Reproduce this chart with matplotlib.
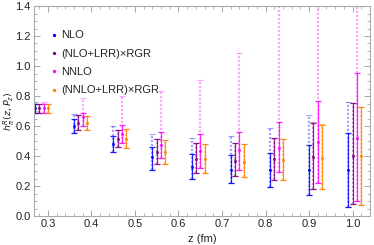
import matplotlib
matplotlib.use("Agg")
import matplotlib.pyplot as plt
from matplotlib.ticker import MultipleLocator, FormatStrFormatter
from matplotlib.lines import Line2D

plt.rcParams['font.family'] = ['Liberation Sans', 'DejaVu Sans']
plt.rcParams['mathtext.fontset'] = 'dejavusans'

z = [0.27, 0.36, 0.45, 0.54, 0.63, 0.72, 0.81, 0.90, 0.99]
offsets = [0.0, 0.01, 0.02, 0.03]
labels = ['NLO', '(NLO+LRR)\u00d7RGR', 'NNLO', '(NNLO+LRR)\u00d7RGR']
colors = ['#0000ff', '#800080', '#ff00ff', '#ff8000']

# NLO
nlo_c  = [0.72, 0.600, 0.480, 0.395, 0.330, 0.310, 0.307, 0.307, 0.305]
nlo_lo = [0.69, 0.555, 0.425, 0.310, 0.250, 0.222, 0.196, 0.140, 0.058]
nlo_hi = [0.75, 0.645, 0.533, 0.460, 0.413, 0.405, 0.418, 0.476, 0.551]
nlo_ho = [0.76, 0.680, 0.600, 0.550, 0.518, 0.533, 0.587, 0.673, 0.758]
# (NLO+LRR)xRGR
nlr_c  = [0.72, 0.620, 0.515, 0.430, 0.383, 0.369, 0.378, 0.396, 0.403]
nlr_lo = [0.69, 0.575, 0.457, 0.350, 0.285, 0.265, 0.242, 0.178, 0.078]
nlr_hi = [0.75, 0.673, 0.575, 0.513, 0.490, 0.487, 0.518, 0.620, 0.751]
nlr_ho = [0.75, 0.673, 0.575, 0.513, 0.490, 0.487, 0.518, 0.625, 0.755]
# NNLO
nnlo_c  = [0.72, 0.660, 0.550, 0.475, 0.434, 0.437, 0.455, 0.495, 0.523]
nnlo_lo = [0.69, 0.600, 0.490, 0.390, 0.323, 0.307, 0.292, 0.222, 0.098]
nnlo_hi = [0.75, 0.690, 0.610, 0.560, 0.544, 0.558, 0.628, 0.768, 0.951]
nnlo_ho = [0.76, 0.785, 0.800, 0.835, 0.907, 1.090, 1.600, 1.800, 2.000]
# (NNLO+LRR)xRGR
nnr_c  = [0.72, 0.620, 0.513, 0.425, 0.378, 0.362, 0.373, 0.390, 0.398]
nnr_lo = [0.69, 0.575, 0.453, 0.345, 0.285, 0.262, 0.240, 0.178, 0.076]
nnr_hi = [0.75, 0.667, 0.578, 0.510, 0.483, 0.477, 0.511, 0.610, 0.725]
nnr_ho = [0.75, 0.667, 0.578, 0.510, 0.483, 0.477, 0.511, 0.615, 0.730]

series = [
    (nlo_c, nlo_lo, nlo_hi, nlo_ho),
    (nlr_c, nlr_lo, nlr_hi, nlr_ho),
    (nnlo_c, nnlo_lo, nnlo_hi, nnlo_ho),
    (nnr_c, nnr_lo, nnr_hi, nnr_ho),
]

fig = plt.figure(figsize=(3.74, 2.45), dpi=100)
ax = fig.add_axes([34/374, 1-216/245, (370-34)/374, (216-6)/245])

for k, (c, lo, hi, ho) in enumerate(series):
    x = [zz + offsets[k] for zz in z]
    col = colors[k]
    # outer (dotted, light) bars
    eo = ax.errorbar(x, c, yerr=[[ci - l for ci, l in zip(c, lo)], [h - ci for ci, h in zip(c, ho)]],
                     fmt='none', ecolor=col, elinewidth=1.6, capsize=2.0, capthick=0.8, alpha=0.35)
    for lc in eo[2]:
        lc.set_linestyle((0, (1, 0.8)))
    # inner (solid) bars
    ax.errorbar(x, c, yerr=[[ci - l for ci, l in zip(c, lo)], [h - ci for ci, h in zip(c, hi)]],
                fmt='o', color=col, ms=2.2, mec='none', ecolor=col, elinewidth=0.9,
                capsize=2.0, capthick=0.9, alpha=0.85)

ax.set_xlim(0.268, 1.04)
ax.set_ylim(0.0, 1.4)
ax.xaxis.set_major_locator(MultipleLocator(0.1))
ax.xaxis.set_minor_locator(MultipleLocator(0.02))
ax.yaxis.set_major_locator(MultipleLocator(0.2))
ax.yaxis.set_minor_locator(MultipleLocator(0.05))
ax.xaxis.set_major_formatter(FormatStrFormatter('%.1f'))
ax.yaxis.set_major_formatter(FormatStrFormatter('%.1f'))
ax.tick_params(which='both', direction='in', top=True, right=True, labeltop=False, labelright=False,
               color='#999999', labelsize=8, labelcolor='#222222', pad=2.5)
ax.tick_params(which='major', length=4, width=0.6)
ax.tick_params(which='minor', length=2, width=0.5)
for sp in ax.spines.values():
    sp.set_color('#aaaaaa')
    sp.set_linewidth(0.8)

ax.set_xlabel('z (fm)', fontsize=8, color='#222222', labelpad=3)
ax.set_ylabel(r'$h^{R}_{\pi}(z,P_z)$', fontsize=6.8, color='#222222')
ax.yaxis.set_label_coords(-0.052, 0.5)

handles = [Line2D([], [], ls='none', marker='o', ms=2.4, mec='none', color=col) for col in colors]
leg = ax.legend(handles, labels, loc='upper left', bbox_to_anchor=(0.035, 0.905), frameon=False,
                fontsize=8, handlelength=0.6, handletextpad=0.35, labelspacing=0.75, borderaxespad=0)
for t in leg.get_texts():
    t.set_color('#222222')

fig.savefig('out.png', dpi=100)
